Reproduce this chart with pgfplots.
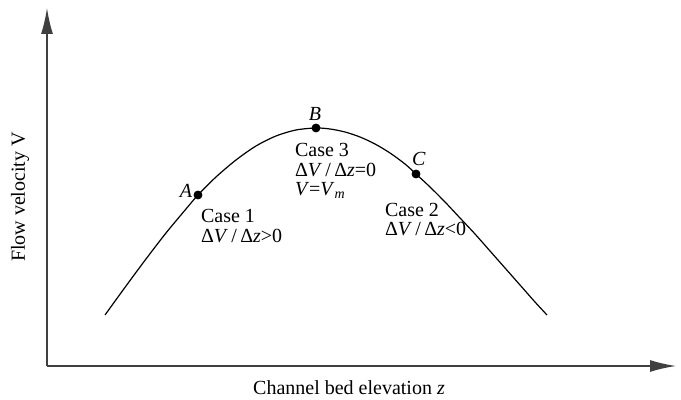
\documentclass[border=0pt]{standalone}
\usepackage{fontspec}
\setmainfont{Liberation Serif}
\usepackage{pgfplots}
\pgfplotsset{compat=1.18}
\usetikzlibrary{arrows.meta}

\begin{document}
\begin{tikzpicture}
  \begin{axis}[
    scale only axis,
    width=314.5pt, height=179pt,
    xmin=0, xmax=629, ymin=0, ymax=358,
    axis lines=left,
    axis line style={draw=black!75, line width=0.75pt, -{Latex[length=13pt,width=6pt]}},
    xtick=\empty, ytick=\empty,
    clip=false,
    every node/.style={font=\fontsize{9}{10}\selectfont},
  ]
    % flow velocity curve
    \addplot[black, line width=0.6pt, smooth] coordinates {
      (58,51) (79,80) (99,107) (119,133) (139,157) (151,171) (169,189)
      (189,206) (209,220) (229,230) (249,236) (269,238)
      (283,237) (298,234) (313,229) (328,222) (343,213) (358,202)
      (369,192) (383,179) (398,164) (413,148) (428,132) (443,115)
      (458,98) (473,81) (488,64) (500,51)
    };
    % points A, B, C
    \addplot[only marks, mark=*, mark size=2pt, black] coordinates {
      (151,171) (269,238) (369,192)
    };

    \node at (axis cs:139,175) {\textit{A}};
    \node at (axis cs:268,252) {\textit{B}};
    \node at (axis cs:372,207) {\textit{C}};

    \node[anchor=base west] at (axis cs:147,143) {Case 1};
    \node[anchor=base west] at (axis cs:147,123) {Δ\textit{V}\,/\,Δ\textit{z}>0};

    \node[anchor=base west] at (axis cs:241,209) {Case 3};
    \node[anchor=base west] at (axis cs:241,189) {Δ\textit{V}\,/\,Δ\textit{z}=0};
    \node[anchor=base west] at (axis cs:241,170) {\textit{V}=\textit{V}\textsubscript{\textit{m}}};

    \node[anchor=base west] at (axis cs:331,149) {Case 2};
    \node[anchor=base west] at (axis cs:331,130) {Δ\textit{V}\,/\,Δ\textit{z}<0};

    \node[rotate=90] at (axis cs:-27,169) {Flow velocity V};
    \node at (axis cs:302,-22) {Channel bed elevation \textit{z}};
  \end{axis}
  \pgfresetboundingbox
  \path[use as bounding box] (-23.5pt,-17pt) rectangle (317pt,183pt);
\end{tikzpicture}
\end{document}
